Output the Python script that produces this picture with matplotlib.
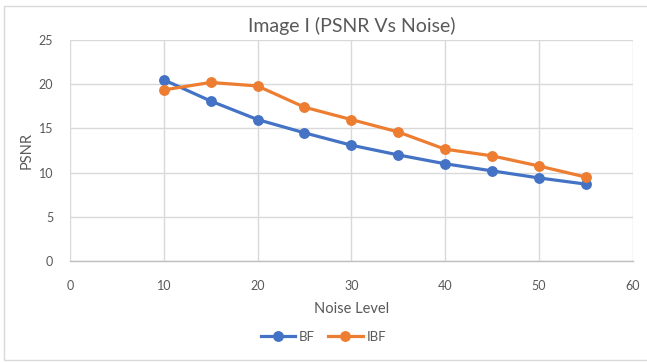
import matplotlib
matplotlib.use("Agg")
import matplotlib.pyplot as plt
from matplotlib.patches import Rectangle

noise = [10, 15, 20, 25, 30, 35, 40, 45, 50, 55]
bf = [20.5, 18.1, 16.0, 14.5, 13.1, 12.0, 11.0, 10.2, 9.4, 8.7]
ibf = [19.35, 20.2, 19.8, 17.4, 16.0, 14.6, 12.65, 11.9, 10.75, 9.5]
x_ticks = [0, 10, 20, 30, 40, 50, 60]
y_ticks = [0, 5, 10, 15, 20, 25]

plt.rcParams['font.family'] = ['Lato', 'DejaVu Sans']
txt = '#595959'
W, H = 647, 363
fig = plt.figure(figsize=(W / 100, H / 100), dpi=100)
ax = fig.add_axes([70 / W, 1 - 261 / H, (632.5 - 70) / W, (261 - 40) / H])

ax.plot(noise, bf, color='#4472C4', lw=2.3, marker='o', ms=6.8, label='BF', zorder=3)
ax.plot(noise, ibf, color='#ED7D31', lw=2.3, marker='o', ms=6.8, label='IBF', zorder=3)

ax.set_xlim(0, 60)
ax.set_ylim(0, 25)
ax.set_xticks(x_ticks)
ax.set_yticks(y_ticks)
ax.grid(True, color='#d9d9d9', lw=1)
ax.set_axisbelow(True)
for s in ['top', 'right', 'left']:
    ax.spines[s].set_visible(False)
ax.spines['bottom'].set_color('#bfbfbf')
ax.spines['bottom'].set_linewidth(1)
ax.tick_params(length=0, colors=txt, labelsize=9)
ax.tick_params(axis='x', pad=14)
ax.tick_params(axis='y', pad=12)
ax.set_xlabel('Noise Level', color=txt, fontsize=10.5, labelpad=7)
ax.set_ylabel('PSNR', color=txt, fontsize=10.5, labelpad=4)
ax.set_title('Image I (PSNR Vs Noise)', color=txt, fontsize=14, pad=6)

fig.legend(loc='center', bbox_to_anchor=(0.5, 1 - 337 / H), ncol=2, frameon=False,
           fontsize=9.5, labelcolor=txt, handlelength=2.6, columnspacing=1.0, handletextpad=0.3)

fig.patches.append(Rectangle((4 / W, 1 - 360 / H), (W + 5 - 4) / W, (360 - 6) / H,
                             transform=fig.transFigure, fill=False, ec='#d9d9d9', lw=1))
fig.savefig('out.png', dpi=100)
